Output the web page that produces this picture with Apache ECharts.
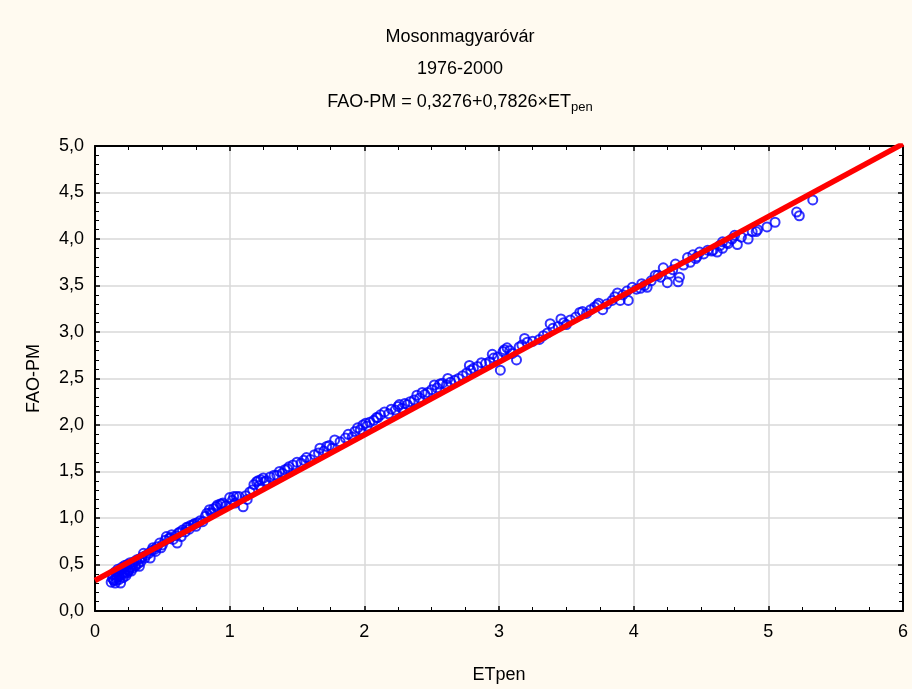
<!DOCTYPE html>
<html>
<head>
<meta charset="utf-8">
<script src="https://cdn.jsdelivr.net/npm/echarts@6/dist/echarts.min.js"></script>
<style>
html,body{margin:0;padding:0;background:#fffaf0;}
#chart{width:912px;height:689px;}
</style>
</head>
<body>
<div id="chart"></div>
<script>
// Data
var etpen = [0.12,0.13,0.13,0.14,0.15,0.15,0.16,0.16,0.17,0.17,0.18,0.18,0.19,0.19,0.20,0.20,0.21,0.21,0.22,0.22,0.23,0.23,0.24,0.24,0.25,0.26,0.26,0.27,0.28,0.28,0.29,0.30,0.31,0.32,0.33,0.34,0.35,0.36,0.37,0.38,0.40,0.41,0.42,0.43,0.45,0.46,0.48,0.49,0.50,0.52,0.53,0.55,0.57,0.58,0.60,0.61,0.62,0.64,0.65,0.67,0.68,0.70,0.71,0.73,0.75,0.76,0.78,0.80,0.82,0.83,0.85,0.87,0.88,0.90,0.91,0.93,0.95,0.97,1.00,1.02,1.03,1.05,1.07,1.10,1.12,1.15,1.17,1.18,1.20,1.22,1.23,1.25,1.27,1.30,1.33,1.37,1.39,1.41,1.44,1.47,1.50,1.53,1.57,1.60,1.63,1.66,1.67,1.70,1.74,1.76,1.78,1.82,1.86,1.91,1.93,1.95,1.97,1.99,2.02,2.04,2.07,2.09,2.10,2.12,2.15,2.18,2.20,2.23,2.25,2.28,2.30,2.32,2.34,2.37,2.41,2.43,2.45,2.47,2.50,2.54,2.56,2.58,2.61,2.64,2.67,2.70,2.73,2.76,2.79,2.81,2.84,2.87,2.90,2.93,2.96,2.99,3.01,3.03,3.06,3.08,3.10,3.13,3.15,3.17,3.21,3.25,3.30,3.33,3.36,3.40,3.44,3.48,3.50,3.53,3.57,3.62,3.65,3.68,3.71,3.73,3.77,3.80,3.84,3.88,3.90,3.92,3.96,3.99,4.02,4.05,4.08,4.10,4.13,4.16,4.20,4.22,4.25,4.27,4.29,4.33,4.34,4.37,4.40,4.42,4.44,4.47,4.49,4.52,4.55,4.58,4.62,4.64,4.66,4.66,4.70,4.73,4.75,4.77,4.80,4.85,4.88,4.91,4.92,4.99,5.05,5.21,5.23,5.33,
  0.14,0.18,0.22,0.25,0.30,0.33,0.44,0.56,0.63,0.69,0.74,0.86,0.94,1.04,1.13,1.21,1.26,1.35,1.43,1.55,1.72,1.88,2.01,2.26,2.39,2.52,2.62,2.78,2.95,3.04,3.19,3.38,3.46,3.60,3.74,3.86,3.95,4.06,4.18,4.31,4.46,4.59,4.69];
var faoPm = [0.31,0.35,0.39,0.33,0.42,0.30,0.36,0.33,0.42,0.45,0.38,0.34,0.30,0.44,0.40,0.47,0.46,0.36,0.42,0.49,0.38,0.45,0.50,0.41,0.44,0.47,0.52,0.43,0.50,0.46,0.53,0.49,0.55,0.51,0.56,0.53,0.58,0.62,0.57,0.60,0.62,0.57,0.65,0.68,0.64,0.69,0.73,0.68,0.71,0.76,0.80,0.78,0.82,0.77,0.81,0.73,0.84,0.80,0.87,0.85,0.90,0.88,0.92,0.93,0.91,0.95,0.97,0.96,1.02,1.05,1.09,1.05,1.10,1.12,1.14,1.15,1.16,1.13,1.22,1.19,1.23,1.23,1.23,1.12,1.24,1.28,1.30,1.36,1.39,1.35,1.41,1.43,1.40,1.44,1.46,1.50,1.48,1.52,1.55,1.57,1.60,1.59,1.65,1.63,1.68,1.70,1.75,1.72,1.78,1.75,1.84,1.82,1.86,1.87,1.93,1.97,1.95,2.00,1.99,2.03,2.05,2.08,2.08,2.11,2.14,2.12,2.17,2.16,2.20,2.18,2.23,2.22,2.25,2.27,2.29,2.35,2.33,2.35,2.38,2.40,2.44,2.45,2.43,2.46,2.48,2.50,2.53,2.56,2.59,2.61,2.63,2.67,2.66,2.68,2.72,2.73,2.59,2.79,2.83,2.80,2.77,2.70,2.84,2.86,2.89,2.90,2.92,2.96,2.99,3.04,3.06,3.10,3.08,3.13,3.16,3.22,3.20,3.24,3.27,3.29,3.24,3.30,3.34,3.42,3.34,3.40,3.34,3.48,3.46,3.47,3.50,3.48,3.55,3.61,3.59,3.69,3.53,3.63,3.67,3.54,3.59,3.72,3.80,3.75,3.83,3.81,3.86,3.84,3.88,3.87,3.86,3.93,3.97,3.90,3.95,4.00,4.04,3.94,4.02,4.00,4.08,4.08,4.10,4.13,4.18,4.29,4.25,4.42,
  0.33,0.37,0.40,0.43,0.48,0.48,0.66,0.79,0.85,0.90,0.94,1.06,1.15,1.16,1.20,1.40,1.39,1.46,1.53,1.62,1.77,1.90,2.02,2.22,2.32,2.43,2.50,2.64,2.76,2.81,2.93,3.09,3.14,3.21,3.31,3.38,3.44,3.52,3.61,3.73,3.79,3.88,3.96];
var intercept = 0.3276;
var slope = 0.7826;
var xRange = [0, 6];
var yTicks = [0, 5];

var points = etpen.map(function(x, i){ return [x, faoPm[i]]; });
var fitLine = xRange.map(function(x){ return [x, intercept + slope * x]; });

var FONT = '"Liberation Sans", Arial, sans-serif';
var commaFmt = function(v){ return v.toFixed(1).replace('.', ','); };

var chart = echarts.init(document.getElementById('chart'), null, {renderer:'canvas'});
var axLine = {show:true, onZero:false, lineStyle:{color:'#000', width:2}};
var axTick = {show:true, inside:true, length:5, lineStyle:{color:'#000', width:1.5}};
var titleStyle = {fontFamily:FONT, fontSize:18, fontWeight:'normal', color:'#000'};
chart.setOption({
  backgroundColor:'#fffaf0',
  animation:false,
  title:[
    {text:'Mosonmagyaróvár', left:460, top:28, textAlign:'center', padding:0, textStyle:titleStyle},
    {text:'1976-2000', left:460, top:60, textAlign:'center', padding:0, textStyle:titleStyle},
    {text:'FAO-PM = 0,3276+0,7826×ET{sub|pen}', left:460, top:91, textAlign:'center', padding:0,
     textStyle:Object.assign({}, titleStyle, {
       rich:{sub:{fontFamily:FONT, fontSize:13, color:'#000', padding:[10,0,0,0]}}})}
  ],
  grid:{left:95, right:9, top:146, bottom:78, show:true, backgroundColor:'#fff', borderWidth:0},
  xAxis:[
    {type:'value', position:'bottom', min:xRange[0], max:xRange[1], interval:1,
      axisLine:axLine, axisTick:axTick,
      minorTick:{show:true, splitNumber:4, length:4, lineStyle:{color:'#000', width:1}},
      axisLabel:{fontFamily:FONT, fontSize:18, color:'#000', margin:12},
      splitLine:{show:true, lineStyle:{color:'#d9d9d9', width:1.5}},
      name:'ETpen', nameLocation:'middle', nameGap:55,
      nameTextStyle:{fontFamily:FONT, fontSize:18, color:'#000'}},
    {type:'value', position:'top', min:xRange[0], max:xRange[1], interval:1,
      axisLine:axLine, axisTick:axTick,
      minorTick:{show:true, splitNumber:4, length:4, lineStyle:{color:'#000', width:1}},
      axisLabel:{show:false}, splitLine:{show:false}}
  ],
  yAxis:[
    {type:'value', position:'left', min:yTicks[0], max:yTicks[1], interval:0.5,
      axisLine:axLine, axisTick:axTick,
      minorTick:{show:true, splitNumber:5, length:4, lineStyle:{color:'#000', width:1}},
      axisLabel:{fontFamily:FONT, fontSize:18, color:'#000', margin:11, formatter:commaFmt},
      splitLine:{show:true, lineStyle:{color:'#d9d9d9', width:1.5}},
      name:'FAO-PM', nameLocation:'middle', nameGap:52,
      nameTextStyle:{fontFamily:FONT, fontSize:18, color:'#000'}},
    {type:'value', position:'right', min:yTicks[0], max:yTicks[1], interval:0.5,
      axisLine:axLine, axisTick:axTick,
      minorTick:{show:true, splitNumber:5, length:4, lineStyle:{color:'#000', width:1}},
      axisLabel:{show:false}, splitLine:{show:false}}
  ],
  series:[
    {type:'scatter', xAxisIndex:0, yAxisIndex:0, data:points, symbol:'circle', symbolSize:9,
     itemStyle:{color:'rgba(0,0,0,0)', borderColor:'#0000ff', borderWidth:2}, z:2},
    {type:'line', xAxisIndex:0, yAxisIndex:0, data:fitLine, symbol:'none', clip:true,
     lineStyle:{color:'#ff0000', width:5.5}, z:3}
  ]
});
</script>
</body>
</html>
